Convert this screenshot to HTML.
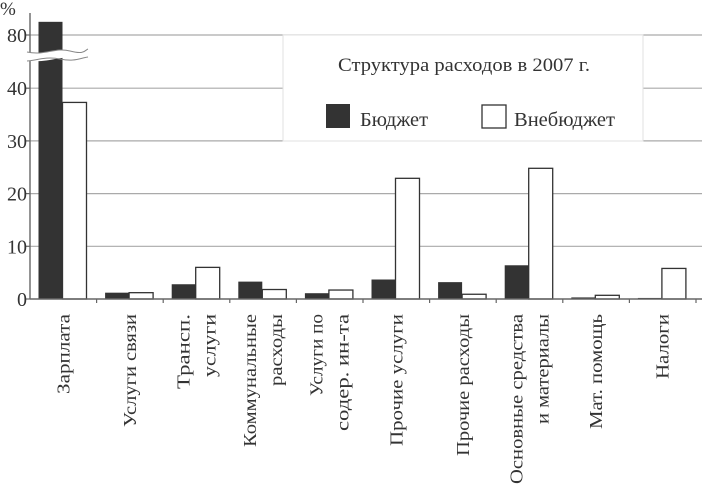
<!DOCTYPE html>
<html><head><meta charset="utf-8"><style>
html,body{margin:0;padding:0;background:#fff;overflow:hidden;}
svg{display:block;font-family:"Liberation Serif",serif;}
</style></head><body>
<svg id="chart" width="702" height="487" viewBox="0 0 702 487" xmlns="http://www.w3.org/2000/svg">
<g id="grid"></g>
<g id="bars"></g>
<g id="axes"></g>
<g id="xlabels"></g>
<g>
  <rect x="283" y="35" width="360" height="106" fill="#fff" stroke="#e2e2e2" stroke-width="1"/>
  <text x="338" y="71" font-size="19" fill="#333" textLength="252" lengthAdjust="spacingAndGlyphs">Структура расходов в 2007 г.</text>
  <rect x="326" y="104" width="24" height="24" fill="#333"/>
  <text x="360" y="126" font-size="20" fill="#333" textLength="68" lengthAdjust="spacingAndGlyphs">Бюджет</text>
  <rect x="482" y="105" width="24" height="23" fill="#fff" stroke="#333" stroke-width="1.3"/>
  <text x="514" y="126" font-size="20" fill="#333" textLength="101" lengthAdjust="spacingAndGlyphs">Внебюджет</text>
</g>
<script>
const categories=[["Зарплата"],["Услуги связи"],["Трансп.","услуги"],["Коммунальные","расходы"],["Услуги по","содер. ин-та"],["Прочие услуги"],["Прочие расходы"],["Основные средства","и материалы"],["Мат. помощь"],["Налоги"]];
const budget=[82.5,1.2,2.8,3.3,1.1,3.7,3.2,6.4,0.3,0.2];
const extraBudget=[37.3,1.2,6.0,1.8,1.7,22.9,0.9,24.8,0.7,5.8];
const yTicks=[0,10,20,30,40,80];
const labelLengths=[[80],[113],[75,63],[133,72],[82,117],[132],[142],[170,110],[115],[65]];

const NS="http://www.w3.org/2000/svg";
const X0=30,CW=66.6,Y0=299,K=5.27,BW=24;
function ycorr(v){ return v>45 ? 35-(v-80)*K : Y0-v*K; }
function mk(tag,attrs,parent){const e=document.createElementNS(NS,tag);for(const k in attrs)e.setAttribute(k,attrs[k]);parent.appendChild(e);return e;}
const grid=document.getElementById('grid'),bars=document.getElementById('bars'),axes=document.getElementById('axes'),xl=document.getElementById('xlabels');
yTicks.forEach(t=>{
  if(t===0) return;
  const l=mk('line',{x1:X0,x2:702,y1:ycorr(t),y2:ycorr(t),stroke:'#aaa','stroke-width':1.2},grid);
  
  
});
categories.forEach((c,i)=>{
  const x=X0+i*CW+8.5;
  const b=mk('rect',{x:x,y:ycorr(budget[i]),width:BW,height:Y0-ycorr(budget[i]),fill:'#333'},bars);
  
  
  const e=mk('rect',{x:x+BW,y:ycorr(extraBudget[i]),width:BW,height:Y0-ycorr(extraBudget[i]),fill:'#fff',stroke:'#333','stroke-width':1.3},bars);
  
  
  const cx=X0+i*CW+CW/2;
  c.forEach((line,j)=>{
    const lx=c.length===1?cx:cx+(j===0?-13:13);
    const L=labelLengths[i][j];
    const t=mk('text',{transform:'translate('+(lx+6)+','+(314+L)+') rotate(-90)','text-anchor':'start','font-size':18,fill:'#333',textLength:L,lengthAdjust:'spacingAndGlyphs'},xl);
    t.textContent=line;
    
    
  });
});
const ya=mk('line',{x1:X0,x2:X0,y1:13,y2:Y0,stroke:'#666','stroke-width':1.4},axes);


const xa=mk('line',{x1:X0,x2:702,y1:Y0,y2:Y0,stroke:'#666','stroke-width':1.4},axes);


for(let i=1;i<=categories.length;i++){
  const tk=mk('line',{x1:X0+i*CW,x2:X0+i*CW,y1:Y0,y2:Y0+4,stroke:'#666','stroke-width':1.2},axes);
  
  
}
yTicks.forEach(t=>{
  const tk=mk('line',{x1:X0-4,x2:X0,y1:ycorr(t),y2:ycorr(t),stroke:'#666','stroke-width':1.2},axes);
  
  
  const lb=mk('text',{x:X0-3,y:ycorr(t)+7,'text-anchor':'end','font-size':20,fill:'#333'},axes);
  lb.textContent=t;
  
  
});
const pct=mk('text',{x:0,y:15,'font-size':19,fill:'#333'},axes);
pct.textContent='%';


const br=mk('path',{d:'M27,52 C45,56 55,47 70,51 S85,50 88,49 L88,58 C80,59 70,56 55,59 S35,61 27,61 Z',fill:'#fff',stroke:'none'},axes);


const b1=mk('path',{d:'M27,52 C45,56 55,47 70,51 S85,50 88,49',fill:'none',stroke:'#888','stroke-width':1},axes);


const b2=mk('path',{d:'M27,61 C35,61 45,56 60,59 S80,58 88,57',fill:'none',stroke:'#888','stroke-width':1},axes);


</script>
</svg>
</body></html>
